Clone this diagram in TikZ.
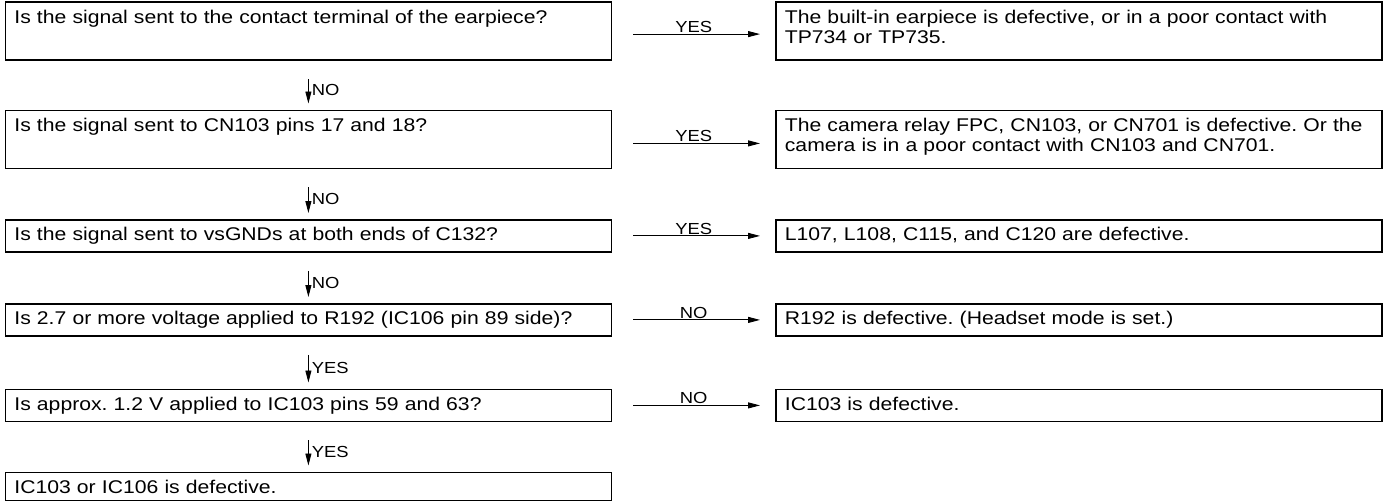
\documentclass[tikz,border=0pt]{standalone}
\usepackage{fontspec}
\setmainfont{Liberation Sans}[FakeStretch=1.15]
\usepackage{tikz}
\usetikzlibrary{arrows.meta, positioning}
\frenchspacing
\newcommand{\boxfont}{\fontsize{18.4}{20}\selectfont}
\newcommand{\lblfont}{\fontsize{16}{16}\selectfont}
\tikzset{
  chkbox/.style={draw, line width=1.8pt, anchor=north west, text width=588pt,
    inner xsep=9pt, inner ysep=4pt, align=left, font=\boxfont, text height=17pt},
  oneline/.style={chkbox, text depth=7pt},
  twoline/.style={chkbox, text depth=33pt},
  lastline/.style={chkbox, text depth=3pt},
  flowarrow/.style={-{Triangle[length=12pt,width=6pt]}, line width=0.9pt},
  flowlbl/.style={font=\lblfont, inner sep=1pt}
}

\begin{document}
\begin{tikzpicture}[x=1pt, y=-1pt]
\useasboundingbox (0,0) rectangle (1383,501);
% --- Checks (left column) ---
\node[twoline] (q1) at (4.5,1.2) {Is the signal sent to the contact terminal of the earpiece?};
\node[twoline] (q2) at (4.5,109.5) {Is the signal sent to CN103 pins 17 and 18?};
\node[oneline] (q3) at (4.5,219) {Is the signal sent to vsGNDs at both ends of C132?};
\node[oneline] (q4) at (4.5,303) {Is 2.7 or more voltage applied to R192 (IC106 pin 89 side)?};
\node[oneline] (q5) at (4.5,388.5) {Is approx. 1.2 V applied to IC103 pins 59 and 63?};
\node[lastline] (q6) at (4.5,471.5) {IC103 or IC106 is defective.};
% --- Results (right column) ---
\node[twoline] (a1) at (775,1.2) {The built-in earpiece is defective, or in a poor contact with\\TP734 or TP735.};
\node[twoline] (a2) at (775,109.5) {\mbox{The camera relay FPC, CN103, or CN701 is defective. Or the}\\camera is in a poor contact with CN103 and CN701.};
\node[oneline] (a3) at (775,219) {L107, L108, C115, and C120 are defective.};
\node[oneline] (a4) at (775,303) {R192 is defective. (Headset mode is set.)};
\node[oneline] (a5) at (775,388.5) {IC103 is defective.};
% Arrows to the results
\draw[flowarrow, shorten <=21pt, shorten >=15pt] ([yshift=-3pt]q1.east) -- ([yshift=-3pt]a1.west)
  node[midway, above, flowlbl] {YES};
\draw[flowarrow, shorten <=21pt, shorten >=15pt] ([yshift=-4pt]q2.east) -- ([yshift=-4pt]a2.west)
  node[midway, above, flowlbl] {YES};
\foreach \q/\a/\t in {q3/a3/YES, q4/a4/NO, q5/a5/NO} {
  \draw[flowarrow, shorten <=21pt, shorten >=15pt] (\q.east) -- (\a.west)
    node[midway, above, flowlbl] {\t};
}
% Arrows down the column
\foreach \q/\n/\t in {q1/q2/NO, q2/q3/NO, q3/q4/NO, q4/q5/YES, q5/q6/YES} {
  \draw[flowarrow, shorten <=18pt, shorten >=6pt] (\q.south) -- (\n.north)
    node[pos=0.6, right, flowlbl, inner sep=3pt] {\t};
}
\end{tikzpicture}
\end{document}
